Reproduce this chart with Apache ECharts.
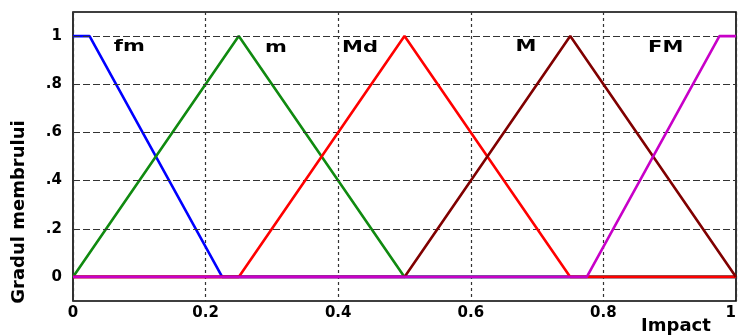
<!DOCTYPE html>
<html>
<head>
<meta charset="utf-8">
<script src="https://cdn.jsdelivr.net/npm/echarts@6/dist/echarts.min.js"></script>
<style>html,body{margin:0;padding:0;background:#fff;}#c{width:738px;height:336px;}</style>
</head>
<body>
<div id="c"></div>
<script>
// membership functions (x, degree)
const fmX = [0, 0.025, 0.225, 1];
const fmY = [1, 1, 0, 0];
const mX = [0, 0.25, 0.5, 1];
const mY = [0, 1, 0, 0];
const MdX = [0, 0.25, 0.5, 0.75, 1];
const MdY = [0, 0, 1, 0, 0];
const MX = [0, 0.5, 0.75, 1];
const MY = [0, 0, 1, 0];
const FMX = [0, 0.775, 0.975, 1];
const FMY = [0, 0, 1, 1];

const seriesNames = ['fm', 'm', 'Md', 'M', 'FM'];
const seriesColors = ['#0000ff', '#108a10', '#ff0000', '#800000', '#c800c8'];

// curve label anchors
const labelX = [0.085, 0.306, 0.433, 0.683, 0.894];
const labelY = [0.955, 0.95, 0.95, 0.955, 0.95];

const xTicks = [0, 0.2, 0.4, 0.6, 0.8, 1];
const yGrid = [0.2, 0.4, 0.6, 0.8, 1.0];
const xName = 'Impact';
const yName = 'Gradul membrului';

function pts(xs, ys) { return xs.map((x, i) => [x, ys[i]]); }
const allData = [pts(fmX, fmY), pts(mX, mY), pts(MdX, MdY), pts(MX, MY), pts(FMX, FMY)];

const chart = echarts.init(document.getElementById('c'), null, {renderer: 'canvas'});
const FONT = 'DejaVu Sans';

const series = [];
series.push({
  type: 'line', data: [], z: 1, silent: true,
  markLine: {
    silent: true, symbol: ['none', 'none'], animation: false,
    label: {show: false},
    lineStyle: {color: '#333', type: [7, 3], width: 1.2},
    data: yGrid.map(v => ({yAxis: v}))
  }
});
allData.forEach((d, i) => {
  series.push({
    name: seriesNames[i], type: 'line', data: d, symbol: 'none', z: 3 + i,
    lineStyle: {color: seriesColors[i], width: 2.6}, itemStyle: {color: seriesColors[i]},
    animation: false
  });
});
series.push({
  type: 'custom', z: 20, animation: false, silent: true,
  data: labelX.map((x, i) => [x, labelY[i]]),
  renderItem: function (params, api) {
    const p = api.coord([api.value(0), api.value(1)]);
    return {
      type: 'text', x: p[0], y: p[1], scaleX: 1.4,
      style: {text: seriesNames[params.dataIndex], font: 'bold 15px "DejaVu Sans"', fill: '#000',
        textAlign: 'center', textVerticalAlign: 'middle'}
    };
  }
});

chart.setOption({
  animation: false,
  backgroundColor: '#fff',
  grid: {left: 73, right: 2, top: 12, bottom: 35, show: true, borderColor: '#000', borderWidth: 1.6,
    backgroundColor: 'transparent', containLabel: false, outerBoundsMode: 'none'},
  xAxis: {
    type: 'value', min: 0, max: 1, interval: 0.2,
    axisLine: {show: false}, axisTick: {show: false},
    axisLabel: {margin: 5, color: '#000', fontFamily: FONT, fontWeight: 'bold', fontSize: 15,
      alignMaxLabel: 'right',
      formatter: v => { const r = Math.round(v * 10) / 10; return xTicks.indexOf(r) >= 0 ? String(r) : ''; }},
    splitLine: {show: true, lineStyle: {color: '#333', type: [3, 3], width: 1.2}}
  },
  yAxis: {
    type: 'value', min: -0.1, max: 1.1, interval: 0.1,
    axisLine: {show: false}, axisTick: {show: false}, splitLine: {show: false},
    axisLabel: {margin: 11, color: '#000', fontFamily: FONT, fontWeight: 'bold', fontSize: 15,
      formatter: v => {
        const k = Math.round(v * 10);
        if (k < 0 || k % 2 !== 0) return '';
        if (k === 0) return '0';
        if (k === 10) return '1';
        return '.' + (k);
      }}
  },
  graphic: [
    {type: 'text', x: 676, y: 326, style: {text: xName, font: 'bold 18px "DejaVu Sans"', fill: '#000', textAlign: 'center', textVerticalAlign: 'middle'}},
    {type: 'text', x: 19, y: 212, rotation: Math.PI / 2, style: {text: yName, font: 'bold 18px "DejaVu Sans"', fill: '#000', textAlign: 'center', textVerticalAlign: 'middle'}}
  ],
  series: series
});
</script>
</body>
</html>
